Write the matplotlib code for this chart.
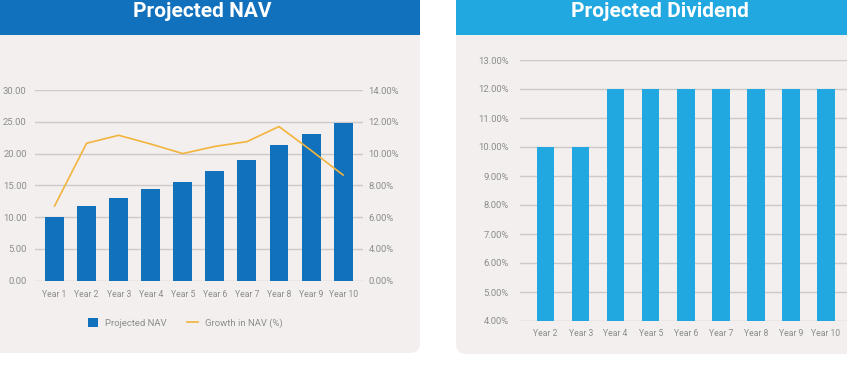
import numpy as np
import matplotlib
matplotlib.use("Agg")
import matplotlib.pyplot as plt
from matplotlib.patches import FancyBboxPatch, Rectangle
from matplotlib.ticker import FuncFormatter

plt.rcParams['font.family'] = ['Roboto', 'DejaVu Sans']

# --- data ---
nav_years = ['Year 1', 'Year 2', 'Year 3', 'Year 4', 'Year 5',
             'Year 6', 'Year 7', 'Year 8', 'Year 9', 'Year 10']
nav_values = [10.05, 11.8, 13.0, 14.4, 15.5, 17.3, 18.95, 21.3, 23.0, 24.8]
nav_growth = [6.7, 10.65, 11.15, 10.6, 10.0, 10.45, 10.75, 11.7, 10.2, 8.65]

div_years = ['Year 2', 'Year 3', 'Year 4', 'Year 5', 'Year 6',
             'Year 7', 'Year 8', 'Year 9', 'Year 10']
div_values = [10, 10, 12, 12, 12, 12, 12, 12, 12]

nav_ticks = [0, 5, 10, 15, 20, 25, 30]
growth_ticks = [0, 4, 6, 8, 10, 12, 14]   # right axis labels, evenly spaced
div_ticks = [4, 5, 6, 7, 8, 9, 10, 11, 12, 13]

# colours
dark_blue = '#1171bc'
light_blue = '#22a8e0'
gold = '#f2b43c'
card = '#f3efef'
grid_c = '#cdc9c9'
text_c = '#8c8c8c'

W, H = 847, 365
fig = plt.figure(figsize=(W / 100, H / 100), dpi=100)

# background layer in pixel coords
bg = fig.add_axes([0, 0, 1, 1])
bg.set_xlim(0, W)
bg.set_ylim(H, 0)
bg.axis('off')

# cards
bg.add_patch(FancyBboxPatch((-30, -30), 450, 383, boxstyle='round,pad=0,rounding_size=10',
                            fc=card, ec='none'))
bg.add_patch(FancyBboxPatch((456, -30), 430, 384, boxstyle='round,pad=0,rounding_size=10',
                            fc=card, ec='none'))
bg.add_patch(Rectangle((-30, -30), 450, 65, fc=dark_blue, ec='none'))
bg.add_patch(Rectangle((456, -30), 430, 65, fc=light_blue, ec='none'))
bg.text(202, 17, 'Projected NAV', color='white', fontsize=15, fontweight='bold',
        ha='center', va='baseline')
bg.text(660, 17, 'Projected Dividend', color='white', fontsize=15, fontweight='bold',
        ha='center', va='baseline')


def style(ax):
    for s in ax.spines.values():
        s.set_visible(False)
    ax.tick_params(length=0, labelcolor=text_c)
    ax.tick_params(axis='y', labelsize=6.8)
    ax.tick_params(axis='x', labelsize=6.2)
    ax.set_facecolor('none')


# --- Projected NAV ---
ax1 = fig.add_axes([35 / W, (H - 280.7) / H, 328 / W, 190.7 / H])
x = np.arange(len(nav_years))
ax1.bar(x, nav_values, width=0.59, color=dark_blue, label='Projected NAV', zorder=2)
ax1.set_xlim(-0.61, len(nav_years) - 0.38)
ax1.set_ylim(0, 30)
ax1.set_yticks(nav_ticks)
ax1.yaxis.set_major_formatter(FuncFormatter(lambda v, p: f'{v:.2f}'))
ax1.set_xticks(x)
ax1.set_xticklabels(nav_years)
ax1.grid(axis='y', color=grid_c, lw=1)
ax1.set_axisbelow(True)
style(ax1)
ax1.tick_params(axis='y', pad=6)
ax1.tick_params(axis='x', pad=7)

# right axis: labels are evenly spaced although the values are not
ax2 = ax1.twinx()
fwd = lambda v: np.interp(v, growth_ticks, np.arange(len(growth_ticks)))
inv = lambda v: np.interp(v, np.arange(len(growth_ticks)), growth_ticks)
ax2.set_yscale('function', functions=(fwd, inv))
ax2.set_ylim(0, 14)
ax2.set_yticks(growth_ticks)
ax2.yaxis.set_major_formatter(FuncFormatter(lambda v, p: f'{v:.2f}%'))
ax2.plot(x, nav_growth, color=gold, lw=1.2, label='Growth in NAV (%)', zorder=3)
style(ax2)
ax2.tick_params(axis='y', pad=4)

h1, l1 = ax1.get_legend_handles_labels()
h2, l2 = ax2.get_legend_handles_labels()
fig.legend(h1 + h2, l1 + l2, loc='center', bbox_to_anchor=(185 / W, (H - 323) / H),
           ncol=2, frameon=False, fontsize=6.8, labelcolor=text_c,
           handlelength=1.15, handleheight=1.15, columnspacing=2.2, handletextpad=0.7)

# --- Projected Dividend ---
ax3 = fig.add_axes([520 / W, (H - 321) / H, 327 / W, 261 / H])
xd = np.arange(len(div_years))
ax3.bar(xd, div_values, width=0.5, color=light_blue, zorder=2)
ax3.set_xlim(-0.73, len(div_years) - 0.4)
ax3.set_ylim(4, 13)
ax3.set_yticks(div_ticks)
ax3.yaxis.set_major_formatter(FuncFormatter(lambda v, p: f'{v:.2f}%'))
ax3.set_xticks(xd)
ax3.set_xticklabels(div_years)
ax3.grid(axis='y', color=grid_c, lw=1)
ax3.set_axisbelow(True)
style(ax3)
ax3.tick_params(axis='y', pad=8)
ax3.tick_params(axis='x', pad=6)

fig.savefig('out.png', dpi=100)
